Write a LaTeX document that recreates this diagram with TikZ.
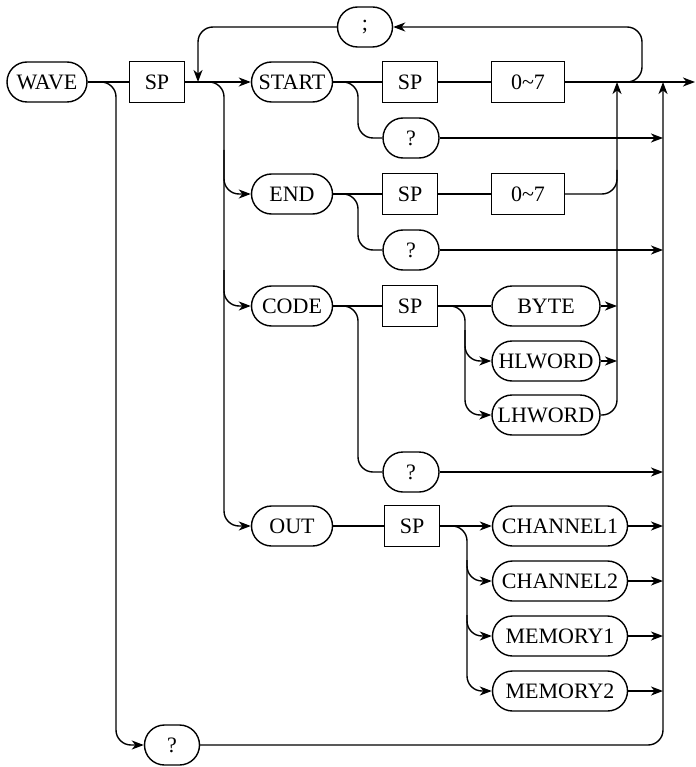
\documentclass[tikz,border=0pt]{standalone}
\usepackage{fontspec}
\setmainfont{Liberation Serif}
\usetikzlibrary{shapes.misc,arrows.meta}
\begin{document}
\begin{tikzpicture}[x=1pt,y=-1pt,
  pill/.style={rounded rectangle, draw, line width=1.4pt, minimum height=40pt, inner sep=0pt, font=\fontsize{22}{26}\selectfont},
  sbox/.style={rectangle, draw, line width=1.4pt, minimum height=41pt, inner sep=0pt, font=\fontsize{22}{26}\selectfont},
  conn/.style={line width=1.4pt, rounded corners=15pt},
  arr/.style={conn, -{Stealth[length=12pt,width=9pt,inset=3.5pt]}}]
\useasboundingbox (0,0) rectangle (695,767);
% nodes
\node[pill,minimum width=80pt] (wave) at (47,82) {WAVE};
\node[sbox,minimum width=55pt] (sp1) at (157,82) {SP};
\node[pill,minimum width=81pt] (start) at (292,82) {START};
\node[sbox,minimum width=55pt] (sp2) at (410,82) {SP};
\node[sbox,minimum width=73pt] (r1) at (528,82) {0\textasciitilde7};
\node[pill,minimum width=55pt] (semi) at (365,27) {;};
\node[pill,minimum width=56pt] (q1) at (411,138) {?};
\node[pill,minimum width=81pt] (end) at (292,194) {END};
\node[sbox,minimum width=55pt] (sp3) at (410,194) {SP};
\node[sbox,minimum width=73pt] (r2) at (528,194) {0\textasciitilde7};
\node[pill,minimum width=56pt] (q2) at (411,250) {?};
\node[pill,minimum width=81pt] (code) at (292,306) {CODE};
\node[sbox,minimum width=55pt] (sp4) at (410,306) {SP};
\node[pill,minimum width=108pt] (byte) at (546,306) {BYTE};
\node[pill,minimum width=108pt] (hlw) at (546,361) {HLWORD};
\node[pill,minimum width=108pt] (lhw) at (546,415) {LHWORD};
\node[pill,minimum width=56pt] (q3) at (411,472) {?};
\node[pill,minimum width=81pt] (out) at (292,526) {OUT};
\node[sbox,minimum width=55pt] (sp5) at (412,526) {SP};
\node[pill,minimum width=135pt] (ch1) at (560,526) {CHANNEL1};
\node[pill,minimum width=135pt] (ch2) at (560,581) {CHANNEL2};
\node[pill,minimum width=135pt] (mem1) at (560,636) {MEMORY1};
\node[pill,minimum width=135pt] (mem2) at (560,691) {MEMORY2};
\node[pill,minimum width=55pt] (q4) at (172,745) {?};
\coordinate (j1) at (198,82);
\coordinate (fin) at (695,82);
% main row
\draw[conn] (wave.east) -- (sp1.west);
\draw[arr] (sp1.east) -- (start.west);
\draw[conn] (start.east) -- (sp2.west);
\draw[conn] (sp2.east) -- (r1.west);
\draw[arr] (r1.east) -- (fin);
% loop
\draw[arr] (610,82) -- (642,82) -- (642,27) -- (semi.east);
\draw[arr] (semi.west) -- (198,27) -- (j1);
% start ?
\draw[conn] (start.east) -- (358,82) -- (358,138) -- (q1.west);
\draw[arr] (q1.east) -- (663,138);
% second vertical
\draw[arr] (j1) -- (224,82) -- (224,526) -- (out.west);
\draw[arr] (224,150) -- (224,194) -- (end.west);
\draw[arr] (224,270) -- (224,306) -- (code.west);
% END row
\draw[conn] (end.east) -- (sp3.west);
\draw[conn] (sp3.east) -- (r2.west);
\draw[conn] (r2.east) -- (617,194) -- (617,170);
\draw[conn] (end.east) -- (358,194) -- (358,250) -- (q2.west);
\draw[arr] (q2.east) -- (663,250);
% CODE row
\draw[conn] (code.east) -- (sp4.west);
\draw[conn] (sp4.east) -- (byte.west);
\draw[arr] (sp4.east) -- (465,306) -- (465,361) -- (hlw.west);
\draw[arr] (465,330) -- (465,415) -- (lhw.west);
\draw[arr] (byte.east) -- (617,306);
\draw[arr] (hlw.east) -- (617,361);
\draw[arr] (lhw.east) -- (617,415) -- (617,82);
\draw[conn] (code.east) -- (358,306) -- (358,472) -- (q3.west);
\draw[arr] (q3.east) -- (663,472);
% OUT row
\draw[conn] (out.east) -- (sp5.west);
\draw[arr] (sp5.east) -- (ch1.west);
\draw[arr] (sp5.east) -- (467,526) -- (467,581) -- (ch2.west);
\draw[arr] (467,560) -- (467,636) -- (mem1.west);
\draw[arr] (467,615) -- (467,691) -- (mem2.west);
\draw[arr] (ch1.east) -- (663,526);
\draw[arr] (ch2.east) -- (663,581);
\draw[arr] (mem1.east) -- (663,636);
\draw[arr] (mem2.east) -- (663,691);
% bottom ?
\draw[arr] (wave.east) -- (116,82) -- (116,745) -- (q4.west);
\draw[arr] (q4.east) -- (663,745) -- (663,82);
\end{tikzpicture}
\end{document}
